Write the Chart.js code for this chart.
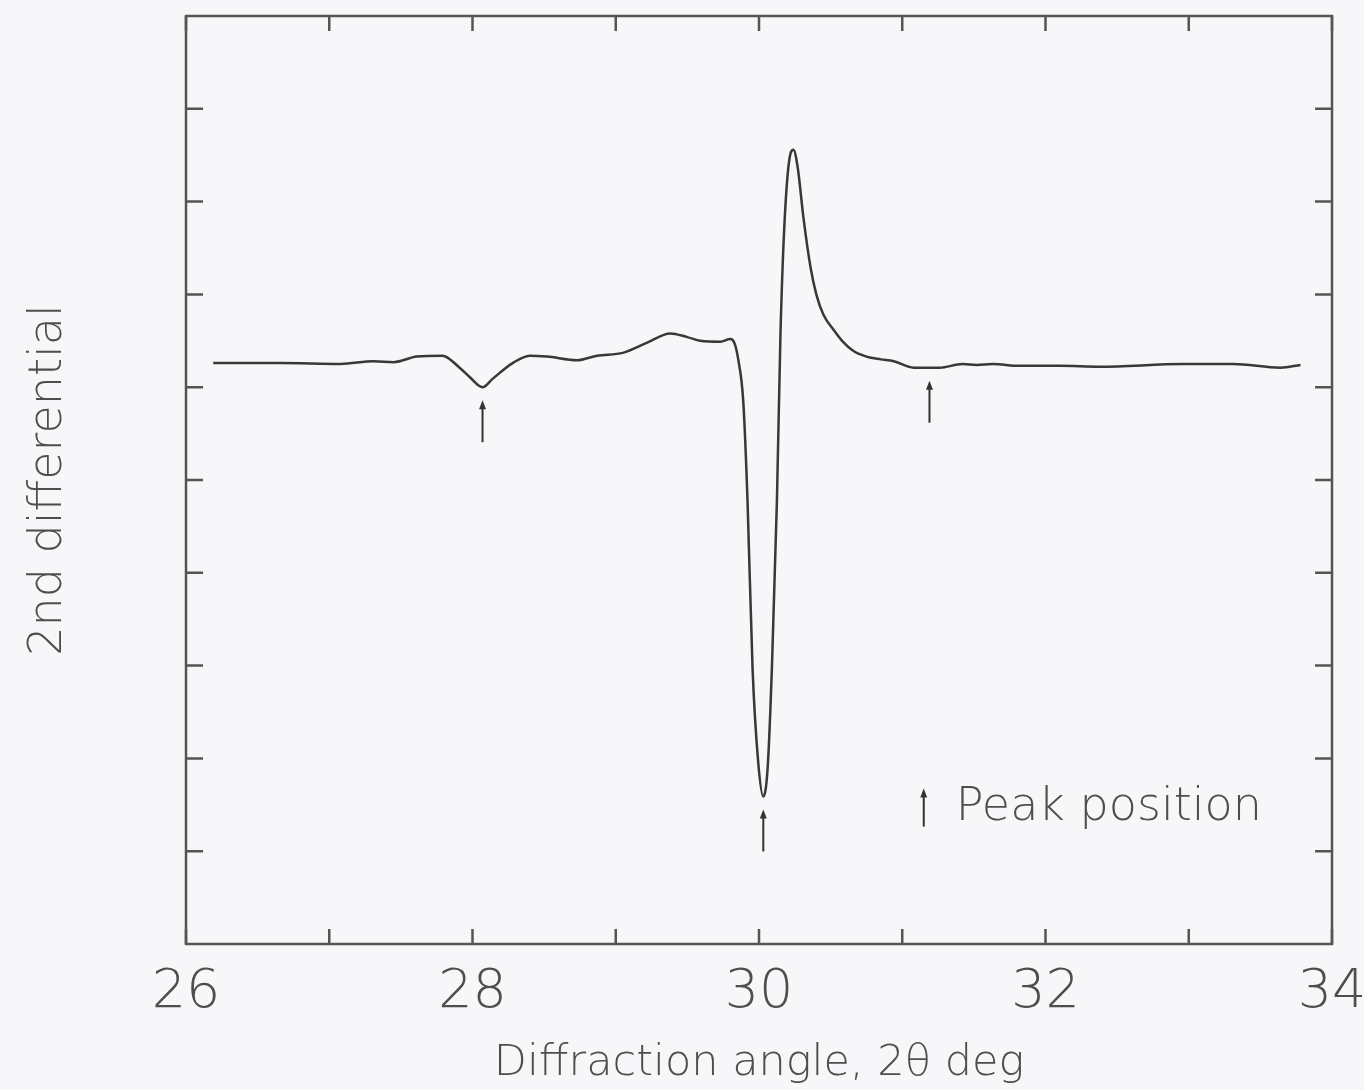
<!DOCTYPE html>
<html>
<head>
<meta charset="utf-8">
<script src="https://cdn.jsdelivr.net/npm/chart.js@4/dist/chart.umd.min.js"></script>
<style>
html, body { margin: 0; padding: 0; background: #f7f6f8; }
#wrap { width: 1364px; height: 1090px; }
</style>
</head>
<body>
<div id="wrap"><canvas id="chart" width="1364" height="1090"></canvas></div>
<script>
// diffraction angle (2theta, deg) and 2nd differential signal
const angles = [26.19, 26.66, 27.08, 27.31, 27.45, 27.61, 27.79, 27.91, 27.98, 28.07,
    28.14, 28.28, 28.40, 28.52, 28.73, 28.87, 29.05, 29.22, 29.38, 29.50,
    29.59, 29.73, 29.80, 29.83, 29.855, 29.89, 29.92, 29.955, 29.995, 30.03,
    30.06, 30.09, 30.125, 30.15, 30.18, 30.22, 30.24, 30.27, 30.31, 30.36,
    30.40, 30.45, 30.52, 30.58, 30.66, 30.75, 30.85, 30.94, 31.08, 31.26,
    31.42, 31.52, 31.63, 31.82, 32.10, 32.38, 32.96, 33.31, 33.64, 33.78];
const signal = [6.26, 6.26, 6.25, 6.28, 6.27, 6.33, 6.34, 6.21, 6.11, 6.00,
    6.09, 6.26, 6.34, 6.33, 6.29, 6.34, 6.37, 6.48, 6.58, 6.54,
    6.50, 6.49, 6.52, 6.47, 6.30, 5.85, 4.77, 2.97, 1.95, 1.59,
    1.89, 2.97, 4.77, 6.58, 7.83, 8.52, 8.56, 8.37, 7.83, 7.29,
    7.00, 6.78, 6.62, 6.50, 6.39, 6.33, 6.30, 6.28, 6.21, 6.21,
    6.25, 6.24, 6.25, 6.23, 6.23, 6.22, 6.25, 6.25, 6.21, 6.24];

const peakAngles = [28.07, 30.03, 31.19];
const xTickValues = [26, 27, 28, 29, 30, 31, 32, 33, 34];
const yTickValues = [1, 2, 3, 4, 5, 6, 7, 8, 9];
const legendAnchor = [31.15, 1.47];
const legendText = 'Peak position';

const INK = '#4e4e4e';

function signalAt(v) {
    for (let i = 0; i < angles.length - 1; i++) {
        if (v >= angles[i] && v <= angles[i + 1]) {
            const t = (v - angles[i]) / (angles[i + 1] - angles[i]);
            return signal[i] + t * (signal[i + 1] - signal[i]);
        }
    }
    return signal[signal.length - 1];
}

function drawArrow(ctx, px, top, len) {
    ctx.beginPath();
    ctx.moveTo(px, top + 4);
    ctx.lineTo(px, top + len);
    ctx.stroke();
    ctx.beginPath();
    ctx.moveTo(px, top);
    ctx.lineTo(px - 3.5, top + 9);
    ctx.lineTo(px + 3.5, top + 9);
    ctx.closePath();
    ctx.fill();
}

const framePlugin = {
    id: 'frame',
    afterDatasetsDraw(chart) {
        const { ctx, chartArea: a, scales: { x, y } } = chart;
        ctx.save();
        ctx.strokeStyle = '#555';
        ctx.fillStyle = '#333';
        ctx.lineWidth = 2.5;
        ctx.strokeRect(a.left, a.top, a.right - a.left, a.bottom - a.top);

        // inward ticks on all four sides
        ctx.beginPath();
        xTickValues.forEach(v => {
            const px = x.getPixelForValue(v);
            ctx.moveTo(px, a.bottom); ctx.lineTo(px, a.bottom - 15);
            ctx.moveTo(px, a.top); ctx.lineTo(px, a.top + 15);
        });
        yTickValues.forEach(v => {
            const py = y.getPixelForValue(v);
            ctx.moveTo(a.left, py); ctx.lineTo(a.left + 17, py);
            ctx.moveTo(a.right, py); ctx.lineTo(a.right - 17, py);
        });
        ctx.stroke();

        // peak arrows below the curve
        ctx.strokeStyle = '#333';
        ctx.lineWidth = 2;
        peakAngles.forEach(v => {
            const px = x.getPixelForValue(v);
            const py = y.getPixelForValue(signalAt(v));
            drawArrow(ctx, px, py + 13, 42);
        });

        // legend
        const lx = x.getPixelForValue(legendAnchor[0]);
        const ly = y.getPixelForValue(legendAnchor[1]);
        drawArrow(ctx, lx, ly - 19, 38);
        ctx.fillStyle = INK;
        ctx.font = '200 46px "DejaVu Sans"';
        ctx.textBaseline = 'middle';
        ctx.textAlign = 'left';
        ctx.fillText(legendText, lx + 32, ly);
        ctx.restore();
    }
};

Chart.defaults.font.family = '"DejaVu Sans", sans-serif';
Chart.defaults.font.weight = 200;
Chart.defaults.color = INK;

new Chart(document.getElementById('chart'), {
    type: 'line',
    data: {
        datasets: [{
            data: angles.map((a, i) => ({ x: a, y: signal[i] })),
            borderColor: '#383838',
            borderWidth: 2.5,
            pointRadius: 0,
            fill: false,
            cubicInterpolationMode: 'monotone'
        }]
    },
    options: {
        responsive: false,
        animation: false,
        layout: { padding: { top: 16, right: 32, left: 0, bottom: 0 } },
        plugins: {
            legend: { display: false },
            tooltip: { enabled: false }
        },
        scales: {
            x: {
                type: 'linear',
                min: 26,
                max: 34,
                grid: { display: false },
                border: { display: false },
                ticks: {
                    stepSize: 2,
                    padding: 9,
                    maxRotation: 0,
                    font: { size: 54, weight: 200 },
                    color: INK
                },
                title: {
                    display: true,
                    text: 'Diffraction angle, 2θ deg',
                    font: { size: 43, weight: 200 },
                    color: INK,
                    padding: { top: 0, bottom: 0 }
                },
                afterFit(s) {
                    s.height = 146;
                    s.paddingLeft = 0;
                    s.paddingRight = 0;
                }
            },
            y: {
                min: 0,
                max: 10,
                grid: { display: false },
                border: { display: false },
                ticks: { display: false },
                title: {
                    display: true,
                    text: '2nd differential',
                    font: { size: 46, weight: 200 },
                    color: INK,
                    padding: { top: 21, bottom: 0 }
                },
                afterFit(s) {
                    s.width = 186;
                }
            }
        }
    },
    plugins: [framePlugin]
});
</script>
</body>
</html>
